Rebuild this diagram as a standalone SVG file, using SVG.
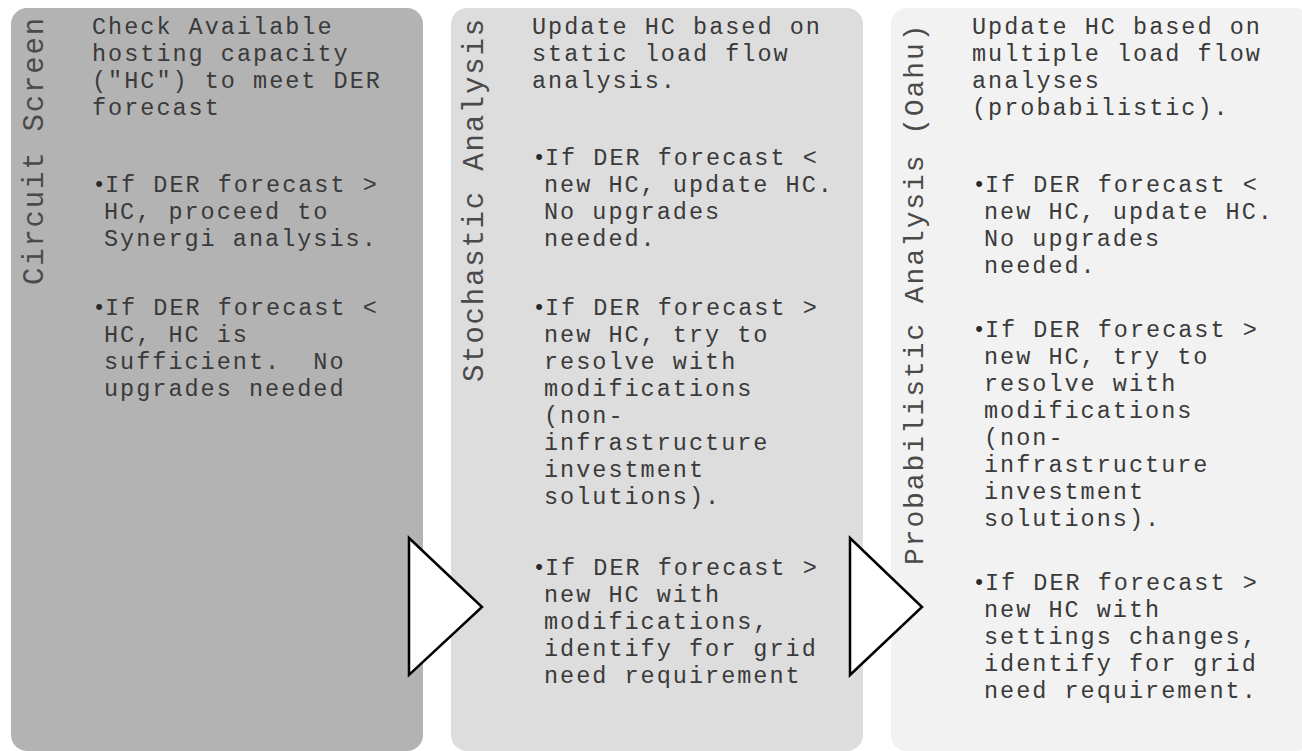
<svg xmlns="http://www.w3.org/2000/svg" width="1302" height="751" viewBox="0 0 1302 751">
<style>
.t{font-family:"Courier New",Courier,"Nimbus Mono PS","FreeMono","Liberation Mono",monospace;font-size:23.5px;letter-spacing:2px;fill:#3a3a3a;white-space:pre}
.lab{font-family:"Courier New",Courier,"Nimbus Mono PS","FreeMono","Liberation Mono",monospace;font-size:29px;letter-spacing:1.8px;fill:#4a4a4a}
.bul{font-family:"Liberation Sans",Arial,sans-serif;font-size:22px;fill:#2a2a2a;text-anchor:middle}
.arrow{fill:#ffffff;stroke:#000000;stroke-width:2.5;stroke-linejoin:miter}
</style>
<rect width="1302" height="751" fill="#ffffff"/>
<g id="circuit-screen">
<rect x="11" y="8" width="412" height="743" rx="16" fill="#b3b3b3"/>
<text class="lab" transform="translate(43,285) rotate(-90)">Circuit Screen</text>
<text class="t" x="92" y="34">Check Available</text>
<text class="t" x="92" y="61">hosting capacity</text>
<text class="t" x="92" y="88">("HC") to meet DER</text>
<text class="t" x="92" y="115">forecast</text>
<text class="bul" x="99" y="191">•</text>
<text class="t" x="105" y="192">If DER forecast &gt;</text>
<text class="t" x="104" y="219">HC, proceed to</text>
<text class="t" x="104" y="246">Synergi analysis.</text>
<text class="bul" x="99" y="314">•</text>
<text class="t" x="105" y="315">If DER forecast &lt;</text>
<text class="t" x="104" y="342">HC, HC is</text>
<text class="t" x="104" y="369">sufficient.  No</text>
<text class="t" x="104" y="396">upgrades needed</text>
</g>
<g id="stochastic-analysis">
<rect x="451" y="8" width="412" height="743" rx="16" fill="#dddddd"/>
<text class="lab" transform="translate(483,382) rotate(-90)">Stochastic Analysis</text>
<text class="t" x="532" y="34">Update HC based on</text>
<text class="t" x="532" y="61">static load flow</text>
<text class="t" x="532" y="88">analysis.</text>
<text class="bul" x="539" y="164">•</text>
<text class="t" x="545" y="165">If DER forecast &lt;</text>
<text class="t" x="544" y="192">new HC, update HC.</text>
<text class="t" x="544" y="219">No upgrades</text>
<text class="t" x="544" y="246">needed.</text>
<text class="bul" x="539" y="314">•</text>
<text class="t" x="545" y="315">If DER forecast &gt;</text>
<text class="t" x="544" y="342">new HC, try to</text>
<text class="t" x="544" y="369">resolve with</text>
<text class="t" x="544" y="396">modifications</text>
<text class="t" x="544" y="423">(non-</text>
<text class="t" x="544" y="450">infrastructure</text>
<text class="t" x="544" y="477">investment</text>
<text class="t" x="544" y="504">solutions).</text>
<text class="bul" x="539" y="574">•</text>
<text class="t" x="545" y="575">If DER forecast &gt;</text>
<text class="t" x="544" y="602">new HC with</text>
<text class="t" x="544" y="629">modifications,</text>
<text class="t" x="544" y="656">identify for grid</text>
<text class="t" x="544" y="683">need requirement</text>
</g>
<g id="probabilistic-analysis">
<rect x="891" y="8" width="420" height="743" rx="16" fill="#f2f2f2"/>
<text class="lab" style="font-size:28px;letter-spacing:1.9px" transform="translate(923,565) rotate(-90)">Probabilistic Analysis (Oahu)</text>
<text class="t" x="972" y="34">Update HC based on</text>
<text class="t" x="972" y="61">multiple load flow</text>
<text class="t" x="972" y="88">analyses</text>
<text class="t" x="972" y="115">(probabilistic).</text>
<text class="bul" x="979" y="191">•</text>
<text class="t" x="985" y="192">If DER forecast &lt;</text>
<text class="t" x="984" y="219">new HC, update HC.</text>
<text class="t" x="984" y="246">No upgrades</text>
<text class="t" x="984" y="273">needed.</text>
<text class="bul" x="979" y="336">•</text>
<text class="t" x="985" y="337">If DER forecast &gt;</text>
<text class="t" x="984" y="364">new HC, try to</text>
<text class="t" x="984" y="391">resolve with</text>
<text class="t" x="984" y="418">modifications</text>
<text class="t" x="984" y="445">(non-</text>
<text class="t" x="984" y="472">infrastructure</text>
<text class="t" x="984" y="499">investment</text>
<text class="t" x="984" y="526">solutions).</text>
<text class="bul" x="979" y="589">•</text>
<text class="t" x="985" y="590">If DER forecast &gt;</text>
<text class="t" x="984" y="617">new HC with</text>
<text class="t" x="984" y="644">settings changes,</text>
<text class="t" x="984" y="671">identify for grid</text>
<text class="t" x="984" y="698">need requirement.</text>
</g>
<g id="connectors">
<polygon class="arrow" points="409,538 409,675 482,607"/>
<polygon class="arrow" points="850,538 850,675 922,607"/>
</g>
</svg>
